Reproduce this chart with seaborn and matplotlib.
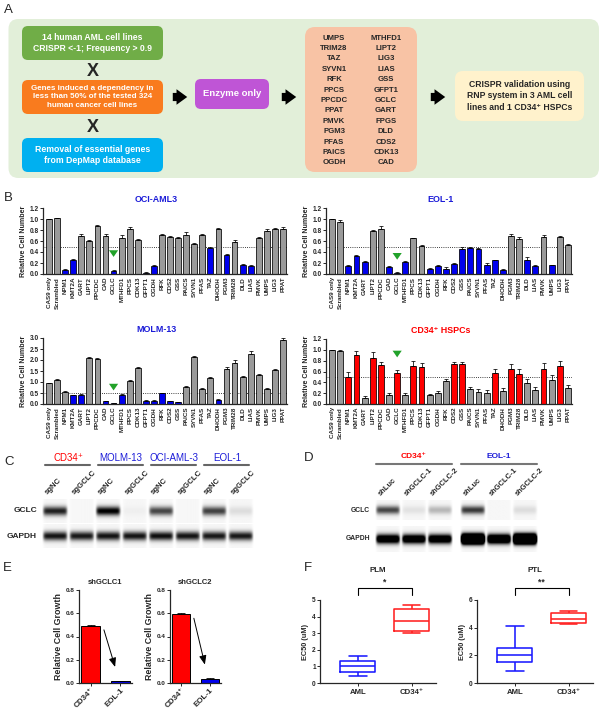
import numpy as np
import pandas as pd
import matplotlib
matplotlib.use("Agg")
import matplotlib.pyplot as plt
import seaborn as sns
from matplotlib.patches import FancyBboxPatch

# ---------------- data ----------------
genes = ['CAS9 only', 'Scrambled', 'NPM1', 'KMT2A', 'GART', 'LIPT2', 'PPCDC', 'CAD', 'GCLC', 'MTHFD1',
         'PPCS', 'CDK13', 'GFPT1', 'OGDH', 'RFK', 'CDS2', 'GSS', 'PAICS', 'SYVN1', 'PFAS',
         'TAZ', 'DHODH', 'PGM3', 'TRIM28', 'DLD', 'LIAS', 'PMVK', 'UMPS', 'LIG3', 'PPAT']

oci = [1.00, 1.01, 0.07, 0.26, 0.70, 0.60, 0.87, 0.70, 0.06, 0.65, 0.82, 0.62, 0.02, 0.14, 0.71,
       0.67, 0.66, 0.71, 0.54, 0.71, 0.48, 0.82, 0.35, 0.59, 0.17, 0.15, 0.66, 0.79, 0.81, 0.82]
oci_err = [0.0, 0.01, 0.02, 0.01, 0.02, 0.02, 0.03, 0.02, 0.02, 0.06, 0.03, 0.02, 0.01, 0.02, 0.02,
           0.02, 0.02, 0.06, 0.02, 0.02, 0.02, 0.02, 0.02, 0.02, 0.02, 0.02, 0.02, 0.02, 0.02, 0.03]
oci_hit = [0, 0, 1, 1, 0, 0, 0, 0, 1, 0, 0, 0, 1, 1, 0, 0, 0, 0, 0, 0, 1, 0, 1, 0, 1, 1, 0, 0, 0, 0]

eol = [1.00, 0.95, 0.15, 0.33, 0.22, 0.78, 0.82, 0.12, 0.02, 0.22, 0.65, 0.51, 0.10, 0.15, 0.10,
       0.18, 0.45, 0.47, 0.45, 0.17, 0.25, 0.08, 0.70, 0.63, 0.26, 0.14, 0.68, 0.16, 0.68, 0.53]
eol_err = [0.0, 0.03, 0.02, 0.02, 0.01, 0.02, 0.05, 0.02, 0.01, 0.02, 0.01, 0.02, 0.01, 0.01, 0.02,
           0.02, 0.04, 0.02, 0.02, 0.03, 0.01, 0.01, 0.02, 0.04, 0.05, 0.02, 0.03, 0.01, 0.02, 0.01]
eol_hit = [0, 0, 1, 1, 1, 0, 0, 1, 1, 1, 0, 0, 1, 1, 1, 1, 1, 1, 1, 1, 1, 1, 0, 0, 1, 1, 0, 1, 0, 0]

molm = [0.97, 1.10, 0.56, 0.40, 0.42, 2.10, 2.05, 0.12, 0.03, 0.42, 1.05, 1.65, 0.15, 0.15, 0.48,
        0.12, 0.08, 0.78, 2.12, 0.68, 1.18, 0.18, 1.58, 1.88, 1.25, 2.28, 1.30, 0.68, 1.55, 2.90]
molm_err = [0.0, 0.04, 0.03, 0.02, 0.04, 0.03, 0.03, 0.02, 0.01, 0.05, 0.04, 0.05, 0.03, 0.03, 0.04,
            0.02, 0.02, 0.06, 0.05, 0.06, 0.04, 0.03, 0.08, 0.10, 0.04, 0.15, 0.05, 0.05, 0.03, 0.12]
molm_hit = [0, 0, 0, 1, 1, 0, 0, 1, 1, 1, 0, 0, 1, 1, 1, 1, 1, 0, 0, 0, 0, 1, 0, 0, 0, 0, 0, 0, 0, 0]

cd34 = [1.00, 0.98, 0.50, 0.91, 0.11, 0.84, 0.72, 0.16, 0.58, 0.17, 0.71, 0.68, 0.16, 0.20, 0.43,
        0.73, 0.74, 0.27, 0.22, 0.20, 0.57, 0.24, 0.65, 0.56, 0.39, 0.25, 0.65, 0.45, 0.71, 0.29]
cd34_err = [0.0, 0.01, 0.09, 0.07, 0.03, 0.12, 0.06, 0.04, 0.05, 0.03, 0.09, 0.07, 0.03, 0.04, 0.04,
            0.05, 0.04, 0.05, 0.05, 0.05, 0.07, 0.05, 0.09, 0.08, 0.07, 0.06, 0.11, 0.08, 0.09, 0.06]
cd34_hit = [0, 0, 1, 1, 0, 1, 1, 0, 1, 0, 1, 1, 0, 0, 0, 1, 1, 0, 0, 0, 1, 0, 1, 1, 0, 0, 1, 0, 1, 0]

enzymes_left = ['UMPS', 'TRIM28', 'TAZ', 'SYVN1', 'RFK', 'PPCS', 'PPCDC', 'PPAT', 'PMVK', 'PGM3',
                'PFAS', 'PAICS', 'OGDH']
enzymes_right = ['MTHFD1', 'LIPT2', 'LIG3', 'LIAS', 'GSS', 'GFPT1', 'GCLC', 'GART', 'FPGS', 'DLD',
                 'CDS2', 'CDK13', 'CAD']

c_groups = ['CD34⁺', 'MOLM-13', 'OCI-AML-3', 'EOL-1']
c_lanes = ['sgNC', 'sgGCLC']
c_gclc = [0.85, 0.0, 1.0, 0.03, 0.7, 0.0, 0.72, 0.1]
c_gapdh = [0.9, 0.88, 0.9, 0.9, 0.92, 0.9, 0.88, 0.88]

d_groups = ['CD34⁺', 'EOL-1']
d_lanes = ['shLuc', 'shGCLC-1', 'shGCLC-2']
d_gclc = [[0.7, 0.08, 0.25], [0.75, 0.0, 0.1]]
d_gapdh = [[1.4, 1.4, 1.4], [3.5, 1.8, 3.5]]

e_cells = ['CD34⁺', 'EOL-1']
e_sh1 = [0.49, 0.015]
e_sh1_err = [0.012, 0.005]
e_sh2 = [0.59, 0.035]
e_sh2_err = [0.015, 0.005]

f_groups = ['AML', 'CD34⁺']
# min, q1, median, q3, max
plm_aml = [0.40, 0.65, 1.05, 1.35, 1.60]
plm_cd34 = [3.00, 3.15, 3.75, 4.45, 4.70]
ptl_aml = [0.85, 1.50, 2.00, 2.55, 4.15]
ptl_cd34 = [4.30, 4.35, 4.60, 5.05, 5.20]

GRAY = '#9a9a9a'
BLUE = '#0000ee'
RED = '#ff0000'
TBLUE = '#1c1cd8'

sns.set_theme(style='ticks')
plt.rcParams['font.family'] = ['Liberation Sans', 'DejaVu Sans']
plt.rcParams['font.weight'] = 'bold'
plt.rcParams['axes.labelweight'] = 'bold'
plt.rcParams['axes.titleweight'] = 'bold'

W, H = 605, 711
fig = plt.figure(figsize=(W / 100, H / 100), dpi=100)


def px_axes(x0, y0, x1, y1):
    ax = fig.add_axes([x0 / W, 1 - y1 / H, (x1 - x0) / W, (y1 - y0) / H])
    ax.set_facecolor('none')
    return ax


# overlay in pixel coordinates for the diagram, labels and blot headers
ax0 = fig.add_axes([0, 0, 1, 1])
ax0.set_xlim(0, W)
ax0.set_ylim(H, 0)
ax0.axis('off')

for lab, x, y in [('A', 4, 10), ('B', 4, 198), ('C', 4, 462), ('D', 304, 458), ('E', 3, 568), ('F', 304, 568)]:
    ax0.text(x, y, lab, fontsize=9.5, fontweight='normal', va='center', ha='left')

# ---------------- panel A ----------------
def rbox(x0, y0, x1, y1, color, r=6):
    ax0.add_patch(FancyBboxPatch((x0, y0), x1 - x0, y1 - y0, boxstyle=f'round,pad=0,rounding_size={r}',
                                 fc=color, ec='none'))

rbox(8.5, 19, 599, 178, '#e2efd9', r=10)
rbox(22, 26, 163, 60, '#70ad47')
rbox(22, 80, 163, 114, '#f97b1e')
rbox(22, 138, 163, 172, '#00b0f0')
rbox(195, 79, 269, 109, '#bf55d6')
rbox(305, 27, 417, 172, '#f8c3a5', r=10)
rbox(455, 71, 584, 121, '#fff2cc', r=8)

ax0.text(92.5, 43, '14 human AML cell lines\nCRISPR <-1; Frequency > 0.9', color='white', fontsize=6.2,
         ha='center', va='center', linespacing=1.4)
ax0.text(92.5, 97, 'Genes induced a dependency in\nless than 50% of the tested 324\nhuman cancer cell lines',
         color='white', fontsize=5.8, ha='center', va='center', linespacing=1.3)
ax0.text(92.5, 155, 'Removal of essential genes\nfrom DepMap database', color='white', fontsize=6.3,
         ha='center', va='center', linespacing=1.4)
ax0.text(92.5, 71, 'X', fontsize=13, ha='center', va='center')
ax0.text(92.5, 127, 'X', fontsize=13, ha='center', va='center')
ax0.text(232, 94, 'Enzyme only', color='white', fontsize=6.8, ha='center', va='center')
for i, (gl, gr) in enumerate(zip(enzymes_left, enzymes_right)):
    yy = 38 + i * 10.4
    ax0.text(334, yy, gl, fontsize=5.6, ha='center', va='center')
    ax0.text(386, yy, gr, fontsize=5.6, ha='center', va='center')
ax0.text(519.5, 96, 'CRISPR validation using\nRNP system in 3 AML cell\nlines and 1 CD34⁺ HSPCs', fontsize=6.2,
         ha='center', va='center', linespacing=1.4)
for xa, xb in [(170, 190), (279, 299), (428, 448)]:
    ax0.annotate('', xy=(xb, 97), xytext=(xa, 97),
                 arrowprops=dict(arrowstyle='simple,head_width=0.8,head_length=0.55,tail_width=0.42',
                                 color='black', lw=0, mutation_scale=14))


# ---------------- panel B ----------------
def bar_panel(box, vals, errs, hits, hit_color, ymax, ystep, title, tcolor):
    ax = px_axes(*box)
    df = pd.DataFrame({'gene': genes, 'value': vals})
    cols = [hit_color if h else GRAY for h in hits]
    sns.barplot(data=df, x='gene', y='value', hue='gene', palette=cols, legend=False, width=0.72,
                saturation=1, edgecolor='black', linewidth=0.55, ax=ax)
    xs = np.arange(len(genes))
    ax.errorbar(xs, vals, yerr=[np.zeros(len(errs)), errs], fmt='none', ecolor='black',
                elinewidth=0.55, capsize=1.3, capthick=0.55)
    ax.axhline(0.5, color='black', ls=(0, (1, 1.6)), lw=0.6, zorder=0)
    ax.set_xlim(-0.75, len(genes) - 0.5)
    ax.set_ylim(0, ymax)
    ax.set_yticks(np.arange(0, ymax + 1e-9, ystep))
    ax.yaxis.set_major_formatter('{x:.1f}')
    ax.tick_params(axis='x', rotation=90, labelsize=4.5, length=0, pad=2)
    ax.tick_params(axis='y', labelsize=4.7, length=2, width=0.7, pad=1)
    ax.set_xlabel('')
    ax.set_ylabel('Relative Cell Number', fontsize=5.1, labelpad=2)
    sns.despine(ax=ax)
    for s in ['left', 'bottom']:
        ax.spines[s].set_linewidth(0.9)
    g = genes.index('GCLC')
    top = vals[g] + errs[g]
    ax.annotate('', xy=(g, top + 0.15 * ymax), xytext=(g, top + 0.33 * ymax),
                arrowprops=dict(arrowstyle='simple,head_width=0.55,head_length=0.4,tail_width=0.28',
                                color='#22a22a', lw=0))
    ax.set_title(title, color=tcolor, fontsize=6.4, pad=4.5, x=0.465)
    return ax


bar_panel((43, 208, 287, 274), oci, oci_err, oci_hit, BLUE, 1.2, 0.2, 'OCI-AML3', TBLUE)
bar_panel((326, 208, 572, 274), eol, eol_err, eol_hit, BLUE, 1.2, 0.2, 'EOL-1', TBLUE)
bar_panel((43, 338, 287, 404), molm, molm_err, molm_hit, BLUE, 3.0, 0.5, 'MOLM-13', TBLUE)
bar_panel((326, 339, 572, 404), cd34, cd34_err, cd34_hit, RED, 1.2, 0.2, 'CD34⁺ HSPCs', RED)


# ---------------- panels C and D: blots ----------------
def blot(box, intens, width_frac=0.9, sigma=0.38, nsub=30, ny=48):
    ax = px_axes(*box)
    n = len(intens)
    xs = (np.arange(n * nsub) + 0.5) / nsub
    ys = np.linspace(-1, 1, ny)
    img = np.zeros((ny, xs.size))
    for i, v in enumerate(intens):
        lane = np.exp(-((xs - i - 0.5) / (0.5 * width_frac)) ** 12)
        img += 0.035 * lane[None, :]
        img += v * np.exp(-(ys / sigma) ** 2)[:, None] * lane[None, :]
    ax.imshow(np.clip(img, 0, 1), cmap='gray_r', vmin=0, vmax=1, aspect='auto',
              extent=(0, n, 1, -1), interpolation='bilinear')
    ax.axis('off')
    return ax


c_x0, c_pitch = 41.7, 26.5
blot((c_x0, 499, c_x0 + 8 * c_pitch, 523), c_gclc)
blot((c_x0, 524, c_x0 + 8 * c_pitch, 548), c_gapdh)
for k, grp in enumerate(c_groups):
    xa = c_x0 + (2 * k + 0.5) * c_pitch
    xb = c_x0 + (2 * k + 1.5) * c_pitch
    ax0.text((xa + xb) / 2, 458, grp, color=RED if k == 0 else TBLUE, fontsize=7,
             fontweight='normal', ha='center', va='center')
    ax0.plot([xa - 10, xb + 9], [465, 465], color='#666666', lw=1.5)
    for j, ln in enumerate(c_lanes):
        xl = c_x0 + (2 * k + j + 0.5) * c_pitch
        ax0.text(xl - 6, 496, ln, rotation=45, rotation_mode='anchor', ha='left', va='bottom', fontsize=5.6)
ax0.text(37, 511, 'GCLC', fontsize=6, ha='right', va='center')
ax0.text(37, 536, 'GAPDH', fontsize=6, ha='right', va='center')

d_pitch = 26
for k, grp in enumerate(d_groups):
    x0 = 375 + k * 85
    blot((x0, 500, x0 + 3 * d_pitch, 520), d_gclc[k], sigma=0.42)
    blot((x0, 526, x0 + 3 * d_pitch, 552), d_gapdh[k], sigma=0.36)
    ax0.text(x0 + 1.5 * d_pitch, 457, grp, color=RED if k == 0 else TBLUE, fontsize=6,
             ha='center', va='center')
    ax0.plot([x0 + 1, x0 + 3 * d_pitch - 1], [464, 464], color='#777777', lw=1.5)
    for j, ln in enumerate(d_lanes):
        xl = x0 + (j + 0.5) * d_pitch
        ax0.text(xl - 6, 497, ln, rotation=45, rotation_mode='anchor', ha='left', va='bottom', fontsize=5.4)
ax0.text(370, 510, 'GCLC', fontsize=4.9, ha='right', va='center')
ax0.text(370, 538, 'GAPDH', fontsize=4.9, ha='right', va='center')


# ---------------- panel E ----------------
def growth_panel(box, vals, errs, title):
    ax = px_axes(*box)
    df = pd.DataFrame({'cell': e_cells, 'growth': vals})
    sns.barplot(data=df, x='cell', y='growth', hue='cell', palette=[RED, BLUE], legend=False,
                width=0.62, saturation=1, edgecolor='black', linewidth=0.7, ax=ax)
    ax.errorbar(np.arange(2), vals, yerr=[np.zeros(2), errs], fmt='none', ecolor='black',
                elinewidth=0.6, capsize=3, capthick=0.6)
    ax.annotate('', xy=(0.85, vals[1] + 0.1), xytext=(0.42, vals[0] - 0.01),
                arrowprops=dict(arrowstyle='-|>,head_width=0.18,head_length=0.45', color='black', lw=0.7))
    ax.set_ylim(0, 0.8)
    ax.set_yticks(np.arange(0, 0.81, 0.2))
    ax.yaxis.set_major_formatter('{x:.1f}')
    ax.set_xlabel('')
    ax.set_ylabel('Relative Cell Growth', fontsize=6.4, labelpad=2)
    ax.tick_params(axis='y', labelsize=4.6, length=2, width=0.7, pad=1)
    ax.tick_params(axis='x', labelsize=5.8, length=2, width=0.7, pad=1)
    for lab in ax.get_xticklabels():
        lab.set_rotation(45)
        lab.set_ha('right')
        lab.set_rotation_mode('anchor')
    sns.despine(ax=ax)
    for s in ['left', 'bottom']:
        ax.spines[s].set_linewidth(0.9)
    ax.set_title(title, fontsize=5.5, pad=4)


growth_panel((79, 590, 132, 683), e_sh1, e_sh1_err, 'shGCLC1')
growth_panel((170, 590, 221, 683), e_sh2, e_sh2_err, 'shGCLC2')


# ---------------- panel F ----------------
def box_panel(box, aml, cd, ymax, ystep, title, stars):
    ax = px_axes(*box)
    df = pd.DataFrame({'group': [f_groups[0]] * len(aml) + [f_groups[1]] * len(cd), 'ec50': aml + cd})
    sns.boxplot(data=df, x='group', y='ec50', hue='group', palette=['#1a1aff', '#ff2020'], fill=False,
                whis=(0, 100), width=0.65, linewidth=1.15, legend=False, ax=ax)
    ax.set_xlim(-0.7, 1.45)
    ax.set_ylim(0, ymax)
    ax.set_yticks(np.arange(0, ymax + 1e-9, ystep))
    ax.set_xlabel('')
    ax.set_ylabel('EC50 (uM)', fontsize=5.3, labelpad=2)
    ax.tick_params(axis='y', labelsize=4.7, length=2, width=0.7, pad=1)
    ax.tick_params(axis='x', labelsize=5.6, length=2, width=0.7, pad=2)
    sns.despine(ax=ax)
    for s in ['left', 'bottom']:
        ax.spines[s].set_linewidth(0.9)
    yb = ymax * 1.145
    ax.plot([0, 0, 1, 1], [ymax * 1.06, yb, yb, ymax * 1.06], color='black', lw=0.8, clip_on=False)
    ax.text(0.5, yb + ymax * 0.02, stars, fontsize=6.2, ha='center', va='bottom')
    ax.set_title(title, fontsize=5.7, pad=20)


box_panel((320, 600, 436, 683), plm_aml, plm_cd34, 5, 1, 'PLM', '*')
box_panel((477, 600, 593, 683), ptl_aml, ptl_cd34, 6, 2, 'PTL', '**')

fig.savefig('out.png', dpi=100)
